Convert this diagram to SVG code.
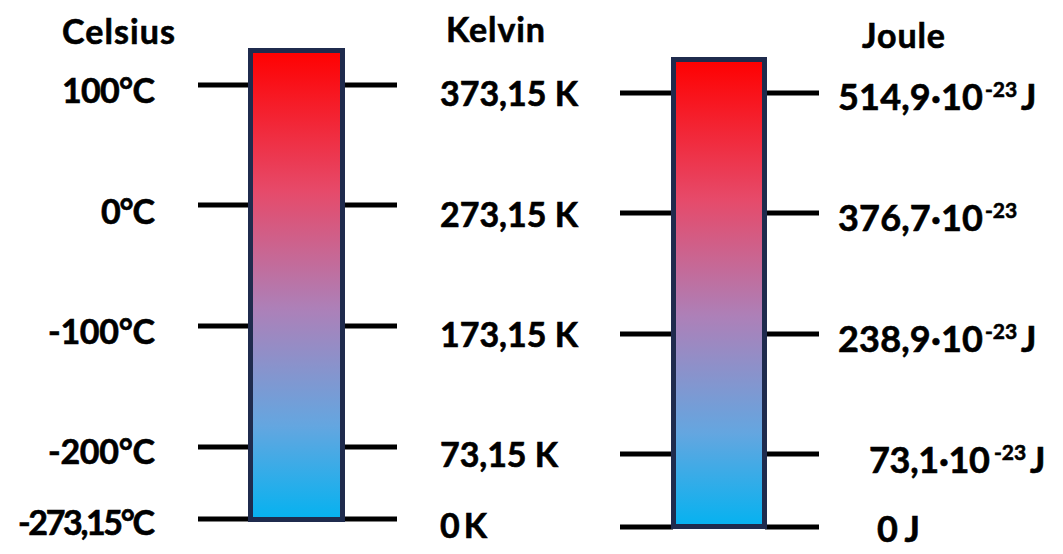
<svg xmlns="http://www.w3.org/2000/svg" width="1063" height="554" viewBox="0 0 1063 554">
  <defs>
    <linearGradient id="temp" x1="0" y1="0" x2="0" y2="1">
      <stop offset="0" stop-color="#ff0000"/>
      <stop offset="0.3" stop-color="#e64a6a"/>
      <stop offset="0.55" stop-color="#ad80b8"/>
      <stop offset="0.8" stop-color="#64a6e0"/>
      <stop offset="1" stop-color="#05b2f0"/>
    </linearGradient>
  </defs>
  <style>
    .bar { fill: url(#temp); stroke: #1f2b4d; stroke-width: 5; }
    .tick { stroke: #000; stroke-width: 5; fill: none; }
    text { font-family: Lato, "Liberation Sans", sans-serif; font-weight: bold; fill: #000; stroke: #000; stroke-width: 0.6px; }
    .hdr { font-size: 34px; }
    .lbl { font-size: 34px; }
    .jl { font-size: 36px; }
    .sup { font-size: 21px; }
  </style>
  <rect width="1063" height="554" fill="#fff"/>

  <g id="connectors">
    <line class="tick" x1="198" y1="85" x2="250" y2="85"/>
    <line class="tick" x1="343" y1="85" x2="397" y2="85"/>
    <line class="tick" x1="198" y1="205" x2="250" y2="205"/>
    <line class="tick" x1="343" y1="205" x2="397" y2="205"/>
    <line class="tick" x1="198" y1="326" x2="250" y2="326"/>
    <line class="tick" x1="343" y1="326" x2="397" y2="326"/>
    <line class="tick" x1="198" y1="447" x2="250" y2="447"/>
    <line class="tick" x1="343" y1="447" x2="397" y2="447"/>
    <line class="tick" x1="198" y1="519" x2="250" y2="519"/>
    <line class="tick" x1="343" y1="519" x2="397" y2="519"/>

    <line class="tick" x1="620" y1="93" x2="673" y2="93"/>
    <line class="tick" x1="765" y1="93" x2="819" y2="93"/>
    <line class="tick" x1="620" y1="213" x2="673" y2="213"/>
    <line class="tick" x1="765" y1="213" x2="819" y2="213"/>
    <line class="tick" x1="620" y1="334" x2="673" y2="334"/>
    <line class="tick" x1="765" y1="334" x2="819" y2="334"/>
    <line class="tick" x1="620" y1="454" x2="673" y2="454"/>
    <line class="tick" x1="765" y1="454" x2="819" y2="454"/>
    <line class="tick" x1="620" y1="527" x2="673" y2="527"/>
    <line class="tick" x1="765" y1="527" x2="819" y2="527"/>
  </g>

  <g id="bar-celsius-kelvin">
    <rect class="bar" x="250.5" y="50.5" width="92" height="469"/>
  </g>
  <g id="bar-joule">
    <rect class="bar" x="673.5" y="59.5" width="91" height="467"/>
  </g>

  <g id="celsius">
    <text class="hdr" x="62" y="44" textLength="113">Celsius</text>
    <text class="lbl" x="62" y="103" textLength="93">100°C</text>
    <text class="lbl" x="101" y="224" textLength="54">0°C</text>
    <text class="lbl" x="48" y="344" textLength="107">-100°C</text>
    <text class="lbl" x="48" y="464" textLength="107">-200°C</text>
    <text class="lbl" x="18" y="535" textLength="137">-273,15°C</text>
  </g>

  <g id="kelvin">
    <text class="hdr" x="446" y="42" textLength="99">Kelvin</text>
    <text class="lbl" x="440" y="106" textLength="138">373,15 K</text>
    <text class="lbl" x="440" y="227" textLength="138">273,15 K</text>
    <text class="lbl" x="440" y="347" textLength="138">173,15 K</text>
    <text class="lbl" x="440" y="467" textLength="118">73,15 K</text>
    <text class="lbl" x="440" y="538" textLength="47">0 K</text>
  </g>

  <g id="joule">
    <text class="hdr" x="862" y="48" textLength="83">Joule</text>
    <text class="jl" y="110"><tspan x="838" textLength="145">514,9·10</tspan><tspan class="sup" x="985" y="97">-23</tspan><tspan x="1021" y="110">J</tspan></text>
    <text class="jl" y="231"><tspan x="838" textLength="145">376,7·10</tspan><tspan class="sup" x="985" y="218">-23</tspan></text>
    <text class="jl" y="352"><tspan x="838" textLength="145">238,9·10</tspan><tspan class="sup" x="985" y="339">-23</tspan><tspan x="1021" y="352">J</tspan></text>
    <text class="jl" y="473"><tspan x="869" textLength="121">73,1·10</tspan><tspan class="sup" x="994" y="460">-23</tspan><tspan x="1030" y="473">J</tspan></text>
    <text class="jl" x="877" y="542" textLength="43">0 J</text>
  </g>
</svg>
